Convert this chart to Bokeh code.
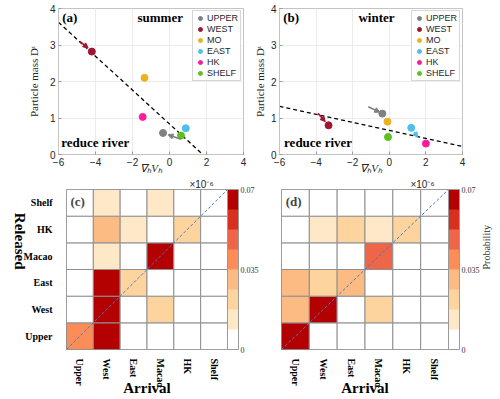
import math
from bokeh.plotting import figure
from bokeh.layouts import column, row
from bokeh.models import (ColumnDataSource, Legend, LegendItem, Arrow, NormalHead, Label, Title,
                          LinearColorMapper, ColorBar, FixedTicker, Range1d, FactorRange,
                          CategoricalAxis)
from bokeh.embed import file_html
from bokeh.resources import INLINE

SERIF = "Liberation Serif"
SANS = "Liberation Sans"

# ---------------- scatter panels data ----------------
groups = ["UPPER", "WEST", "MO", "EAST", "HK", "SHELF"]
group_colors = ["#808080", "#A2142F", "#EDB120", "#4DBEEE", "#FF1A9C", "#5DC21E"]

x_ticks = [-6, -4, -2, 0, 2, 4]
y_ticks = [0, 1, 2, 3, 4]

summer_div = [-0.35, -4.20, -1.35, 0.88, -1.45, 0.62]
summer_mass = [0.59, 2.82, 2.10, 0.72, 1.03, 0.52]
summer_fit_div = [-6.0, 1.8]
summer_fit_mass = [3.62, 0.0]
summer_arrow_group = ["WEST", "UPPER"]
summer_arrow_div0 = [-4.85, 0.62]
summer_arrow_mass0 = [3.10, 0.42]
summer_arrow_div1 = [-4.40, -0.08]
summer_arrow_mass1 = [2.92, 0.54]

winter_div = [-0.38, -3.32, -0.10, 1.20, 2.00, -0.07]
winter_mass = [1.12, 0.80, 0.90, 0.73, 0.30, 0.48]
winter_fit_div = [-6.0, 4.0]
winter_fit_mass = [1.32, 0.22]
winter_arrow_group = ["UPPER", "WEST", "EAST"]
winter_arrow_div0 = [-1.15, -3.90, 1.35]
winter_arrow_mass0 = [1.31, 1.13, 0.62]
winter_arrow_div1 = [-0.52, -3.50, 1.55]
winter_arrow_mass1 = [1.16, 0.90, 0.47]

# ---------------- connectivity matrices (x 1e-6) ----------------
regions = ["Upper", "West", "East", "Macao", "HK", "Shelf"]
# rows: released region; entries: arrival region (same order as regions)
summer_from_upper = [0.040, 0.070, 0.000, 0.000, 0.000, 0.000]
summer_from_west = [0.000, 0.070, 0.000, 0.022, 0.000, 0.000]
summer_from_east = [0.000, 0.070, 0.021, 0.000, 0.000, 0.000]
summer_from_macao = [0.000, 0.013, 0.000, 0.070, 0.000, 0.000]
summer_from_hk = [0.000, 0.030, 0.013, 0.000, 0.022, 0.000]
summer_from_shelf = [0.000, 0.013, 0.000, 0.013, 0.000, 0.000]

winter_from_upper = [0.070, 0.000, 0.000, 0.000, 0.000, 0.000]
winter_from_west = [0.030, 0.070, 0.000, 0.022, 0.000, 0.000]
winter_from_east = [0.030, 0.022, 0.030, 0.000, 0.000, 0.000]
winter_from_macao = [0.000, 0.000, 0.000, 0.048, 0.000, 0.000]
winter_from_hk = [0.000, 0.013, 0.022, 0.013, 0.022, 0.000]
winter_from_shelf = [0.000, 0.000, 0.000, 0.000, 0.000, 0.000]

prob_palette = ["#FFFFFF", "#FEE8C8", "#FDD49E", "#FDBB84",
                "#FC8D59", "#EF6548", "#D7301F", "#B30000"]
prob_ticks = [0, 0.035, 0.07]
prob_tick_labels = ["0", "0.035", "0.07"]


def has_prop(model, name):
    return name in model.properties()


def scatter_panel(tag, season, div, mass, fit_div, fit_mass,
                  a_group, a_x0, a_y0, a_x1, a_y1,
                  min_left, min_right, ylabel_standoff, tag_x, season_x, river_x):
    p = figure(width=250, height=176, x_range=Range1d(-6, 4), y_range=Range1d(0, 4),
               output_backend="svg", toolbar_location=None,
               min_border_left=min_left, min_border_right=min_right,
               min_border_top=8, min_border_bottom=21)
    p.outline_line_color = "#C4C4C4"
    p.xgrid.grid_line_color = "#ECECEC"
    p.ygrid.grid_line_color = "#ECECEC"
    p.xaxis.ticker = FixedTicker(ticks=x_ticks)
    p.yaxis.ticker = FixedTicker(ticks=y_ticks)
    for ax in (p.xaxis[0], p.yaxis[0]):
        ax.axis_line_color = "#C4C4C4"
        ax.major_tick_in = 3
        ax.major_tick_out = 0
        ax.major_tick_line_color = "#9A9A9A"
        ax.minor_tick_line_color = None
        ax.major_label_text_font = SANS
        ax.major_label_text_font_size = "10px"
        ax.major_label_text_color = "#262626"
        ax.axis_label_text_font = SERIF
        ax.axis_label_text_font_size = "11px"
        ax.axis_label_text_color = "#262626"
    p.xaxis.axis_label = "∇ₕVₕ"
    p.xaxis.axis_label_text_font_style = "italic"
    p.xaxis.major_label_standoff = 3
    p.xaxis.axis_label_standoff = -7
    p.yaxis.axis_label = "Particle mass Dᵗ"
    p.yaxis.axis_label_text_font_style = "normal"
    p.yaxis.major_label_standoff = 3
    p.yaxis.axis_label_standoff = ylabel_standoff

    p.line(fit_div, fit_mass, line_color="black", line_dash="4 3", line_width=1.3)

    for g, x0, y0, x1, y1 in zip(a_group, a_x0, a_y0, a_x1, a_y1):
        c = group_colors[groups.index(g)]
        p.add_layout(Arrow(x_start=x0, y_start=y0, x_end=x1, y_end=y1,
                           line_color=c, line_width=1.6,
                           end=NormalHead(size=5, fill_color=c, line_color=c)))

    items = []
    for g, c, xv, yv in zip(groups, group_colors, div, mass):
        r = p.scatter([xv], [yv], size=7, fill_color=c, line_color=c)
        items.append(LegendItem(label=g, renderers=[r]))
    legend = Legend(items=items, location="top_right", margin=2, padding=2,
                    spacing=1, glyph_width=10, glyph_height=10, label_height=10,
                    label_standoff=2, label_text_font=SANS, label_text_font_size="9px",
                    label_text_color="#262626", border_line_color="#B0B0B0",
                    background_fill_color="white", background_fill_alpha=1)
    p.add_layout(legend)

    common = dict(text_font=SERIF, text_font_style="bold", text_font_size="13px",
                  text_baseline="middle", text_color="black")
    p.add_layout(Label(x=tag_x, y=3.76, text=tag, text_align="left", **common))
    p.add_layout(Label(x=season_x, y=3.76, text=season, text_align="center", **common))
    p.add_layout(Label(x=river_x, y=0.33, text="reduce river", text_align="left", **common))
    return p


def heat_panel(tag, rows_values, width, min_left, min_right, show_rows, bar_title):
    arrival, released, prob = [], [], []
    for rel, vals in zip(regions, rows_values):
        for arr, v in zip(regions, vals):
            arrival.append(arr)
            released.append(rel)
            prob.append(v)
    src = ColumnDataSource(dict(arrival=arrival, released=released, prob=prob))
    mapper = LinearColorMapper(palette=prob_palette, low=prob_ticks[0], high=prob_ticks[-1])
    p = figure(width=width, height=223, x_range=FactorRange(*regions),
               y_range=FactorRange(*regions), output_backend="svg", toolbar_location=None,
               min_border_left=min_left, min_border_right=min_right,
               min_border_top=0, min_border_bottom=46)
    p.rect(x="arrival", y="released", width=1, height=1, source=src,
           fill_color={"field": "prob", "transform": mapper},
           line_color="#8F8F8F", line_width=1)
    p.line(x=[(regions[0], -0.5), (regions[-1], 0.5)],
           y=[(regions[0], -0.5), (regions[-1], 0.5)],
           line_color="#4A78C8", line_dash="3 2", line_width=1)
    p.grid.visible = False
    p.outline_line_color = "#8F8F8F"
    for ax in (p.xaxis[0], p.yaxis[0]):
        ax.axis_line_color = None
        ax.major_tick_line_color = None
        ax.minor_tick_line_color = None
        ax.major_label_text_font = SERIF
        ax.major_label_text_font_style = "bold"
        ax.major_label_text_font_size = "10px"
        ax.major_label_text_color = "black"
    p.xaxis.major_label_orientation = -math.pi / 2
    p.xaxis.major_label_standoff = 3
    p.xaxis.axis_label = "Arrival"
    p.xaxis.axis_label_text_font = SERIF
    p.xaxis.axis_label_text_font_style = "bold"
    p.xaxis.axis_label_text_font_size = "15px"
    p.xaxis.axis_label_text_color = "black"
    p.xaxis.axis_label_standoff = -10
    if show_rows:
        yax = p.yaxis[0]
        yax.major_label_standoff = 8
        yax.axis_label = "Released"
        yax.axis_label_text_font = SERIF
        yax.axis_label_text_font_style = "bold"
        yax.axis_label_text_font_size = "15px"
        yax.axis_label_text_color = "black"
        yax.axis_label_standoff = 1
        if has_prop(yax, "axis_label_orientation"):
            yax.axis_label_orientation = -math.pi / 2
    else:
        p.yaxis.visible = False

    cb = ColorBar(color_mapper=mapper, ticker=FixedTicker(ticks=prob_ticks),
                  major_label_overrides={t: s for t, s in zip(prob_ticks, prob_tick_labels)},
                  width=11, margin=4, padding=0, label_standoff=2,
                  major_label_text_font=SERIF, major_label_text_font_size="8px",
                  major_label_text_color="#333333", major_tick_line_color=None,
                  bar_line_color="#9A9A9A", border_line_color=None,
                  background_fill_alpha=0, location="top_left")
    p.add_layout(cb, "right")

    if bar_title:
        tax = CategoricalAxis(axis_label=bar_title, axis_line_color=None,
                              major_tick_line_color=None, minor_tick_line_color=None,
                              major_label_text_font_size="1px", major_label_text_color=None,
                              major_label_standoff=0,
                              axis_label_standoff=-2, axis_label_text_font=SERIF,
                              axis_label_text_font_size="10px",
                              axis_label_text_font_style="normal",
                              axis_label_text_color="#333333")
        if has_prop(tax, "axis_label_orientation"):
            tax.axis_label_orientation = math.pi / 2
        p.add_layout(tax, "right")

    p.add_layout(Title(text="×10⁻⁶", align="right", offset=14, standoff=0,
                       text_font=SANS, text_font_size="10px", text_font_style="normal",
                       text_color="#262626"), "above")

    # synthetic categorical coordinates: columns span 0..6, rows span 0..6
    p.add_layout(Label(x=0.15, y=5.55, text=tag,
                       text_font=SERIF, text_font_style="bold", text_font_size="13px",
                       text_baseline="middle", text_align="left"))
    return p


p_a = scatter_panel("(a)", "summer", summer_div, summer_mass, summer_fit_div, summer_fit_mass,
                    summer_arrow_group, summer_arrow_div0, summer_arrow_mass0,
                    summer_arrow_div1, summer_arrow_mass1,
                    58, 7, 7, -5.8, -0.5, -5.85)
p_b = scatter_panel("(b)", "winter", winter_div, winter_mass, winter_fit_div, winter_fit_mass,
                    winter_arrow_group, winter_arrow_div0, winter_arrow_mass0,
                    winter_arrow_div1, winter_arrow_mass1,
                    26, 38, 2, -5.8, -0.7, -5.75)

summer_rows = [summer_from_upper, summer_from_west, summer_from_east,
               summer_from_macao, summer_from_hk, summer_from_shelf]
winter_rows = [winter_from_upper, winter_from_west, winter_from_east,
               winter_from_macao, winter_from_hk, winter_from_shelf]

p_c = heat_panel("(c)", summer_rows, 268, 59, 41, True, None)
p_d = heat_panel("(d)", winter_rows, 232, 13, 52, False, "Probability")

layout = column(row(p_a, p_b), row(p_c, p_d))
open("out.html", "w").write(file_html(layout, INLINE))
